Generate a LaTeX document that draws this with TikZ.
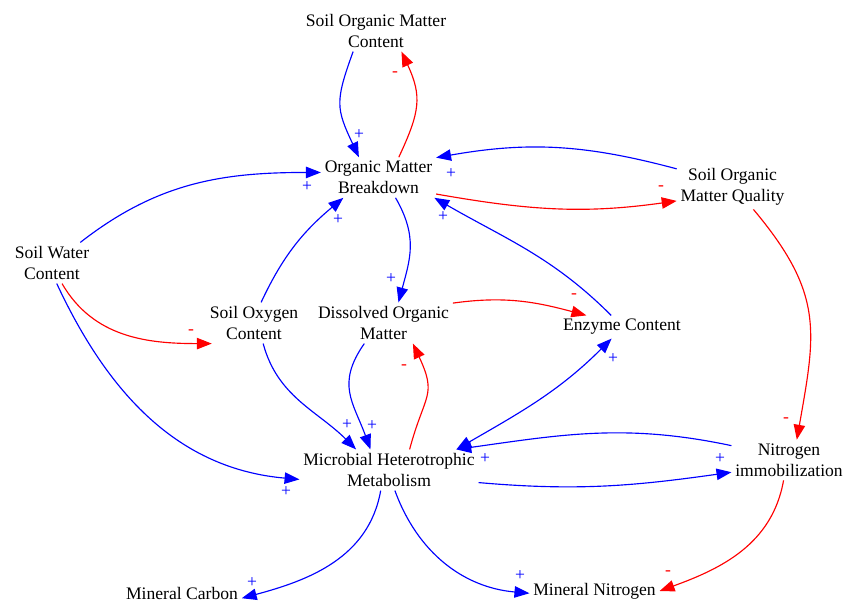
\documentclass[tikz,border=0pt]{standalone}
\usepackage{fontspec}
\setmainfont{Liberation Serif}
\usetikzlibrary{arrows.meta,positioning}

\begin{document}
\begin{tikzpicture}[>={Triangle[length=8.5pt,width=6.5pt]},
  var/.style={align=center,inner sep=2pt,font=\fontsize{10}{12}\selectfont},
  posl/.style={blue,line width=0.65pt,->},
  negl/.style={red,line width=0.65pt,->},
  plussign/.style={text=blue,inner sep=0pt,font=\fontsize{10}{12}\selectfont},
  minussign/.style={text=red,inner sep=0pt,font=\fontsize{10}{12}\selectfont}]
\useasboundingbox (0,0) rectangle (16.9,12.04);

% variables
\draw (7.52,11.42) node(somc)[var] {Soil Organic Matter\\Content};
\draw (7.57,8.49) node(omb)[var] {Organic Matter\\Breakdown};
\draw (14.65,8.30) node(somq)[var] {Soil Organic\\Matter Quality};
\draw (1.04,6.78) node(swc)[var] {Soil Water\\Content};
\draw (5.08,5.58) node(soc)[var] {Soil Oxygen\\Content};
\draw (7.67,5.58) node(dom)[var] {Dissolved Organic\\Matter};
\draw (12.44,5.50) node(enz)[var] {Enzyme Content};
\draw (7.78,2.64) node(mhm)[var] {Microbial Heterotrophic\\Metabolism};
\draw (15.78,2.84) node(ni)[var] {Nitrogen\\immobilization};
\draw (3.64,0.18) node(minc)[var] {Mineral Carbon};
\draw (11.89,0.22) node(minn)[var] {Mineral Nitrogen};

% links
\draw[posl] (somc.222) to[out=250,in=115,looseness=1.3] (omb.134);
\draw[negl] (omb.45) to[out=65,in=-65,looseness=1.2] (somc.-39);
\draw[posl] (somq.162) to[out=165,in=10] (omb.19);
\draw[negl] (omb.-16) to[out=-10,in=188] (somq.194);
\draw[posl] (swc.36) to[out=38,in=180] (omb.175);
\draw[posl] (soc.71) to[out=65,in=220] (omb.210);
\draw[posl] (omb.-50) to[out=-60,in=75,looseness=1.1] (dom.54);
\draw[posl] (enz.133) to[out=135,in=-30] (omb.-20);
\draw[negl] (swc.-64) to[out=-60,in=180] (soc.206);
\draw[posl] (swc.-77) to[out=-65,in=175] (mhm.186);
\draw[posl] (soc.-66) to[out=-75,in=135] (mhm.148);
\draw[posl] (dom.227) to[out=235,in=110,looseness=1.2] (mhm.132);
\draw[negl] (mhm.45) to[out=75,in=-65,looseness=1.4] (dom.-35);
\draw[negl] (dom.16) to[out=8,in=165] (enz.162);
\draw[posl,<->] (mhm.17) to[out=30,in=225] (enz.228);
\draw[posl] (ni.166) to[out=168,in=8] (mhm.17);
\draw[posl] (mhm.-8) to[out=-5,in=188] (ni.192);
\draw[negl] (somq.-47) to[out=-50,in=80,looseness=1.2] (ni.69);
\draw[negl] (ni.255) to[out=-100,in=20] (minn.east);
\draw[posl] (mhm.248) to[out=-100,in=15] (minc.-5);
\draw[posl] (mhm.-74) to[out=-70,in=175] (minn.182);

% polarities
\node[plussign] (p1) at (7.18,9.34) {+};
\node[plussign] (p2) at (9.02,8.56) {+};
\node[plussign] (p3) at (6.14,8.30) {+};
\node[plussign] (p4) at (6.76,7.64) {+};
\node[plussign] (p5) at (7.82,6.46) {+};
\node[plussign] (p6) at (8.86,7.70) {+};
\node[plussign] (p7) at (5.72,2.20) {+};
\node[plussign] (p8) at (6.94,3.54) {+};
\node[plussign] (p9) at (7.44,3.52) {+};
\node[plussign] (p10) at (12.26,4.86) {+};
\node[plussign] (p11) at (9.70,2.86) {+};
\node[plussign] (p12) at (14.40,2.86) {+};
\node[plussign] (p13) at (5.04,0.38) {+};
\node[plussign] (p14) at (10.40,0.52) {+};
\node[minussign] (m1) at (7.90,10.56) {-};
\node[minussign] (m2) at (13.22,8.28) {-};
\node[minussign] (m3) at (3.82,5.40) {-};
\node[minussign] (m4) at (8.08,4.70) {-};
\node[minussign] (m5) at (11.48,6.12) {-};
\node[minussign] (m6) at (15.72,3.64) {-};
\node[minussign] (m7) at (13.36,0.58) {-};
\end{tikzpicture}
\end{document}
